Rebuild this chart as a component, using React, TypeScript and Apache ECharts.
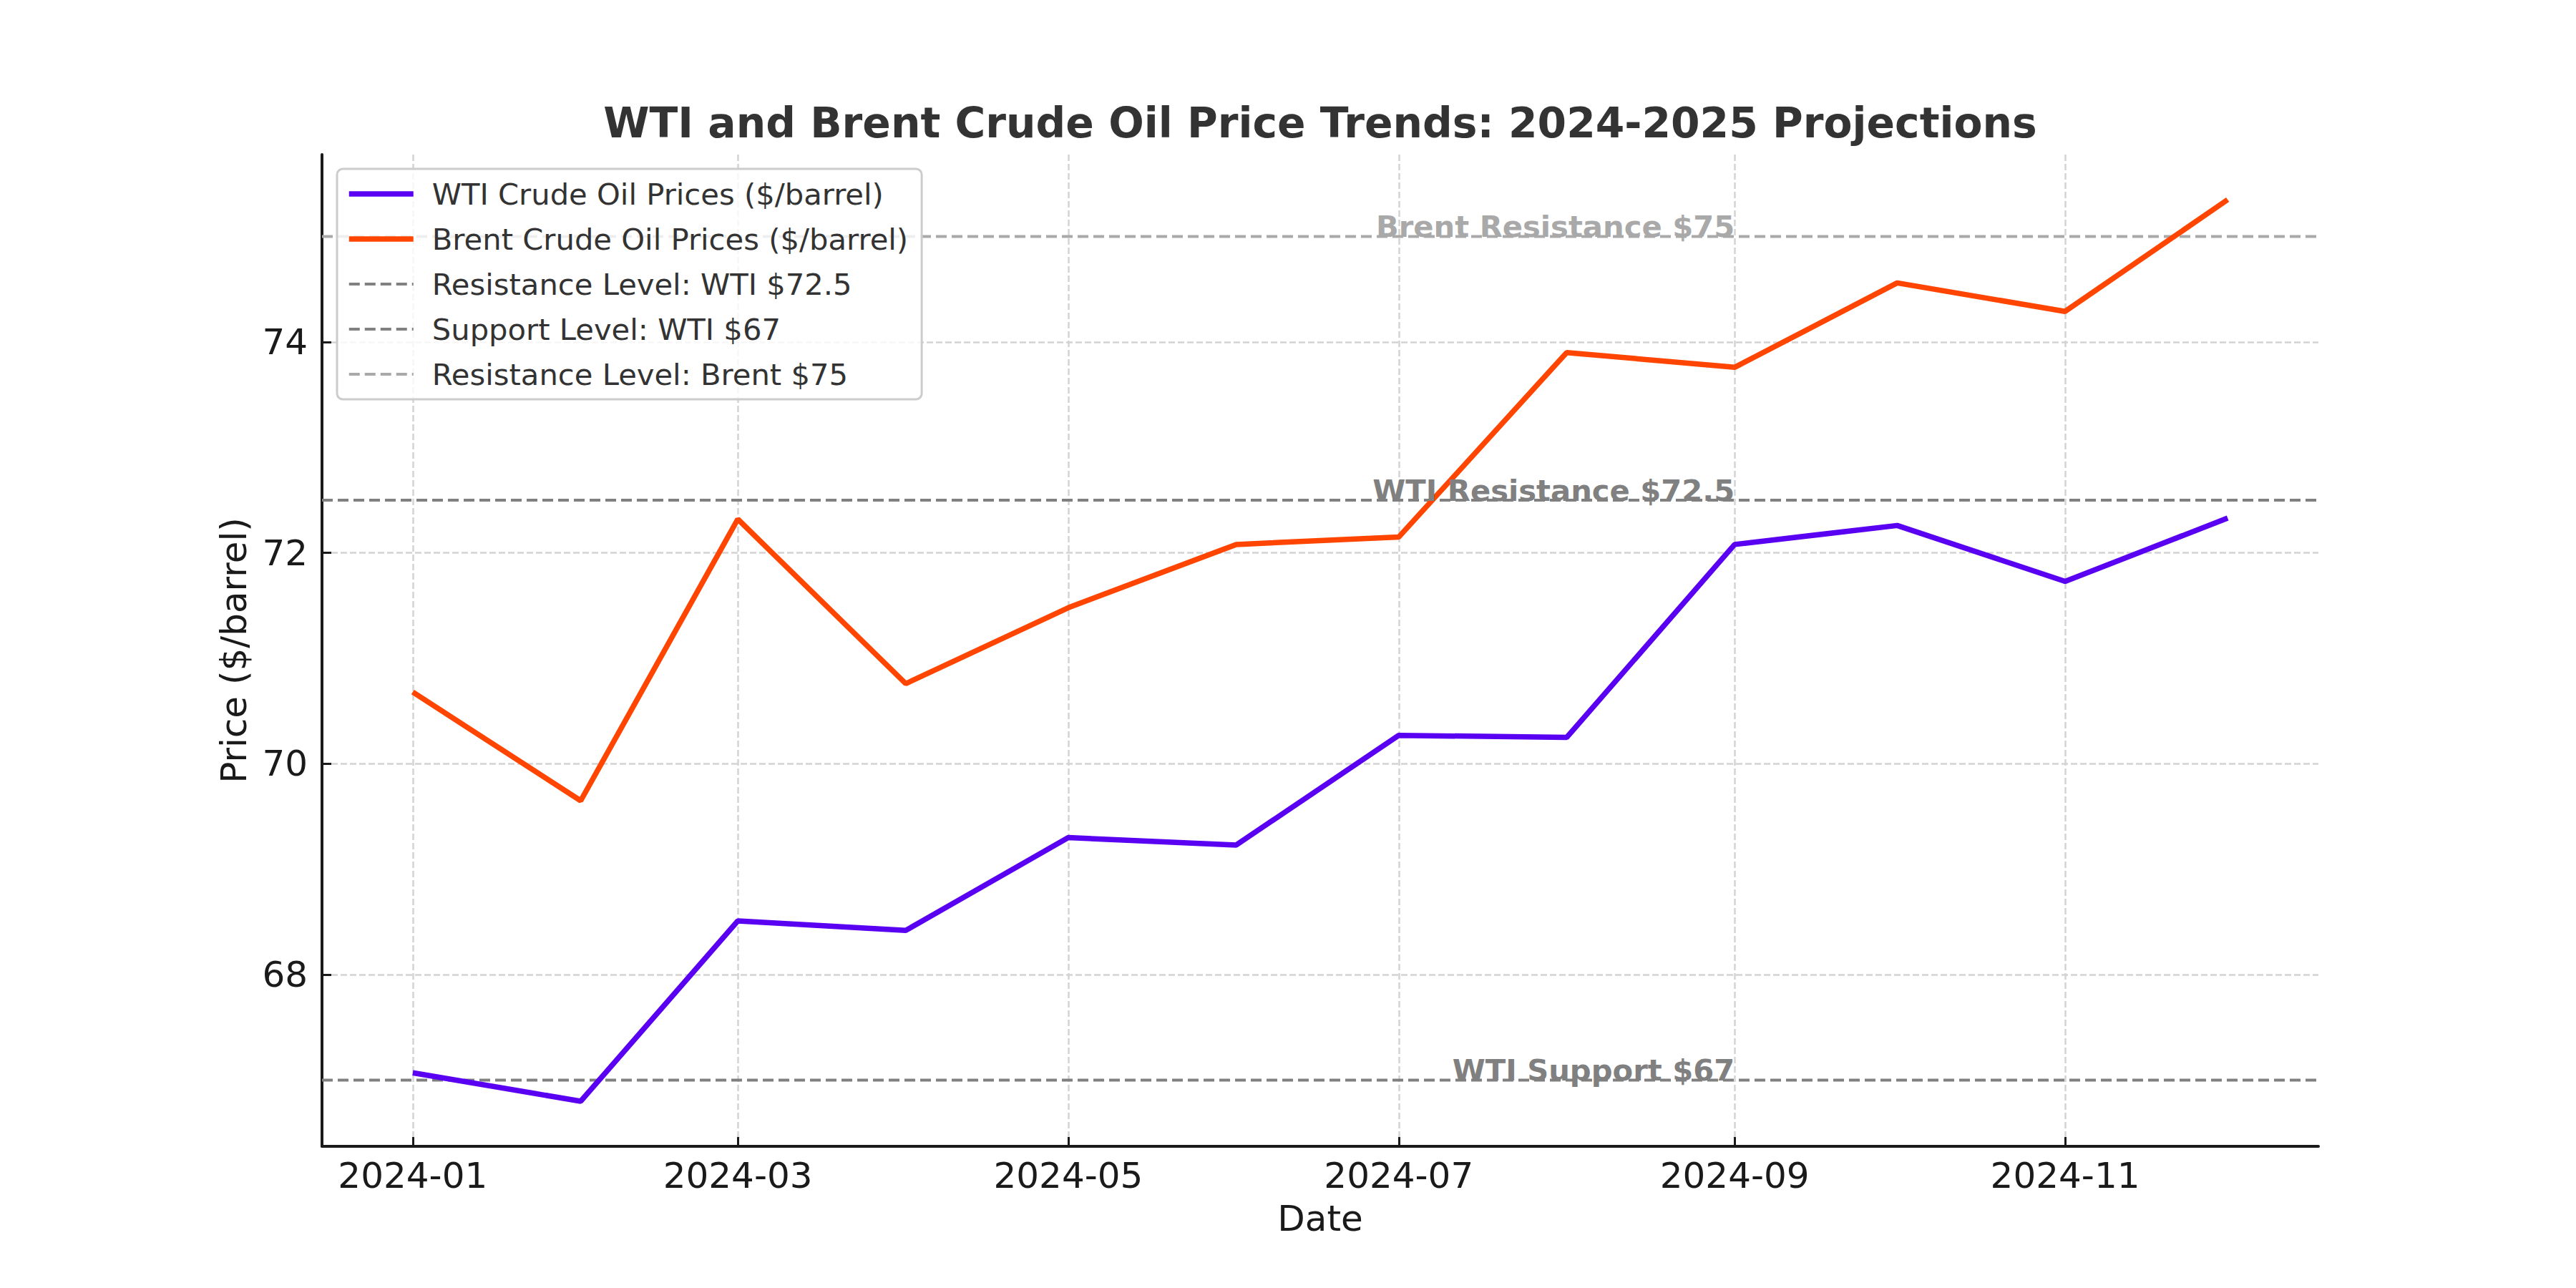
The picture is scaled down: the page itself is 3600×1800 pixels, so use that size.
import React, { useEffect, useRef } from "react";
import * as echarts from "echarts";

// ---- data ----
const months = [
  "2024-01", "2024-02", "2024-03", "2024-04", "2024-05", "2024-06",
  "2024-07", "2024-08", "2024-09", "2024-10", "2024-11", "2024-12",
];
const wtiPrices = [67.07, 66.80, 68.51, 68.42, 69.30, 69.23, 70.27, 70.25, 72.08, 72.26, 71.73, 72.33];
const brentPrices = [70.68, 69.65, 72.32, 70.76, 71.48, 72.08, 72.15, 73.90, 73.76, 74.56, 74.29, 75.35];
const xTickLabels = ["2024-01", "2024-03", "2024-05", "2024-07", "2024-09", "2024-11"];
const yTickValues = [68, 70, 72, 74];
const levelNames = ["Resistance Level: WTI $72.5", "Support Level: WTI $67", "Resistance Level: Brent $75"];
const levelValues = [72.5, 67, 75];
const levelTexts = ["WTI Resistance $72.5", "WTI Support $67", "Brent Resistance $75"];
const levelColors = ["#808080", "#808080", "#a9a9a9"];
const annotationMonth = "2024-09";

const WTI_NAME = "WTI Crude Oil Prices ($/barrel)";
const BRENT_NAME = "Brent Crude Oil Prices ($/barrel)";
const TITLE = "WTI and Brent Crude Oil Price Trends: 2024-2025 Projections";
const FONT = "DejaVu Sans";
const WTI_COLOR = "#5a00f2";
const BRENT_COLOR = "#ff4500";

// days since 2024-01-01 (UTC based, no timezone issues)
function toDay(m: string): number {
  const [y, mo] = m.split("-").map(Number);
  return (Date.UTC(y, mo - 1, 1) - Date.UTC(2024, 0, 1)) / 86400000;
}

export default function App() {
  const ref = useRef<HTMLDivElement>(null);

  useEffect(() => {
    if (!ref.current) return;
    const chart = echarts.init(ref.current, undefined, { renderer: "svg" });

    const xs = months.map(toDay);
    const span = xs[xs.length - 1] - xs[0];
    const xMin = xs[0] - 0.05 * span;
    const xMax = xs[xs.length - 1] + 0.05 * span;
    const allY = [...wtiPrices, ...brentPrices, ...levelValues];
    const dMin = Math.min(...allY);
    const dMax = Math.max(...allY);
    const yMin = dMin - 0.05 * (dMax - dMin);
    const yMax = dMax + 0.05 * (dMax - dMin);
    const xTickValues = xTickLabels.map(toDay);
    const annX = toDay(annotationMonth);

    const levelSeries = levelValues.map((lv, i) => ({
      name: levelNames[i],
      type: "line",
      data: [[xMin, lv], [xMax, lv]],
      symbol: "none",
      silent: true,
      z: 3,
      lineStyle: { color: levelColors[i], width: 4, type: [15, 7] },
      itemStyle: { color: levelColors[i] },
      markPoint: {
        symbol: "circle",
        symbolSize: 0,
        silent: true,
        z: 10,
        data: [
          {
            coord: [annX, lv],
            label: {
              show: true,
              formatter: levelTexts[i],
              position: [0, 0],
              align: "right",
              verticalAlign: "bottom",
              offset: [0, 7],
              color: levelColors[i],
              fontFamily: FONT,
              fontWeight: "bold",
              fontSize: 41.7,
              lineHeight: 42,
            },
          },
        ],
      },
    }));

    const legendData = [
      { name: WTI_NAME, itemStyle: { opacity: 0 }, lineStyle: { width: 7.5, color: WTI_COLOR, type: "solid" } },
      { name: BRENT_NAME, itemStyle: { opacity: 0 }, lineStyle: { width: 7.5, color: BRENT_COLOR, type: "solid" } },
      ...levelNames.map((n, i) => ({
        name: n,
        itemStyle: { opacity: 0 },
        lineStyle: { width: 4, color: levelColors[i], type: [15, 7] },
      })),
    ];

    const option: any = {
      animation: false,
      backgroundColor: "#ffffff",
      title: {
        text: TITLE,
        left: 1845,
        top: 143,
        textAlign: "center",
        padding: 0,
        textStyle: { fontFamily: FONT, fontSize: 58.3, fontWeight: "bold", color: "#333333" },
      },
      legend: {
        orient: "vertical",
        left: 471,
        top: 236,
        padding: [14, 19, 14, 13],
        itemWidth: 90,
        itemHeight: 20,
        itemGap: 21,
        backgroundColor: "rgba(255,255,255,0.8)",
        borderColor: "#cccccc",
        borderWidth: 3,
        borderRadius: 8,
        itemStyle: { opacity: 0 },
        textStyle: {
          fontFamily: FONT,
          fontSize: 41.7,
          lineHeight: 42,
          color: "#333333",
          padding: [0, 0, 0, 21],
        },
        data: legendData,
      },
      grid: { left: 450, top: 216, right: 360, bottom: 198, containLabel: false },
      xAxis: {
        type: "value",
        min: xMin,
        max: xMax,
        name: "Date",
        nameLocation: "middle",
        nameGap: 76,
        nameTextStyle: { fontFamily: FONT, fontSize: 50, color: "#1a1a1a" },
        axisLine: { show: true, onZero: false, lineStyle: { color: "#1a1a1a", width: 4 } },
        axisTick: { show: true, inside: true, length: 13, lineStyle: { color: "#1a1a1a", width: 3 }, customValues: xTickValues },
        axisLabel: {
          show: true,
          customValues: xTickValues,
          margin: 16,
          fontFamily: FONT,
          fontSize: 50,
          color: "#1a1a1a",
          formatter: (v: number) => {
            const k = xTickValues.findIndex((t) => Math.abs(t - v) < 0.01);
            return k >= 0 ? xTickLabels[k] : "";
          },
        },
        splitLine: { show: true, lineStyle: { color: "#d3d3d3", width: 2.5, type: [9, 4] } },
      },
      yAxis: {
        type: "value",
        min: yMin,
        max: yMax,
        name: "Price ($/barrel)",
        nameLocation: "middle",
        nameGap: 98,
        nameTextStyle: { fontFamily: FONT, fontSize: 50, color: "#1a1a1a" },
        axisLine: { show: true, onZero: false, lineStyle: { color: "#1a1a1a", width: 4 } },
        axisTick: { show: true, inside: true, length: 13, lineStyle: { color: "#1a1a1a", width: 3 }, customValues: yTickValues },
        axisLabel: {
          show: true,
          customValues: yTickValues,
          margin: 20,
          fontFamily: FONT,
          fontSize: 50,
          color: "#1a1a1a",
          formatter: (v: number) => String(Math.round(v)),
        },
        splitLine: { show: true, lineStyle: { color: "#d3d3d3", width: 2.5, type: [9, 4] } },
      },
      series: [
        {
          name: WTI_NAME,
          type: "line",
          data: xs.map((x, i) => [x, wtiPrices[i]]),
          symbol: "none",
          z: 4,
          lineStyle: { color: WTI_COLOR, width: 7.5 },
          itemStyle: { color: WTI_COLOR },
        },
        {
          name: BRENT_NAME,
          type: "line",
          data: xs.map((x, i) => [x, brentPrices[i]]),
          symbol: "none",
          z: 4,
          lineStyle: { color: BRENT_COLOR, width: 7.5 },
          itemStyle: { color: BRENT_COLOR },
        },
        ...levelSeries,
      ],
    };

    chart.setOption(option);
    return () => chart.dispose();
  }, []);

  return (
    <div
      ref={ref}
      style={{ position: "fixed", left: 0, top: 0, width: 3600, height: 1800, background: "#fff" }}
    />
  );
}
